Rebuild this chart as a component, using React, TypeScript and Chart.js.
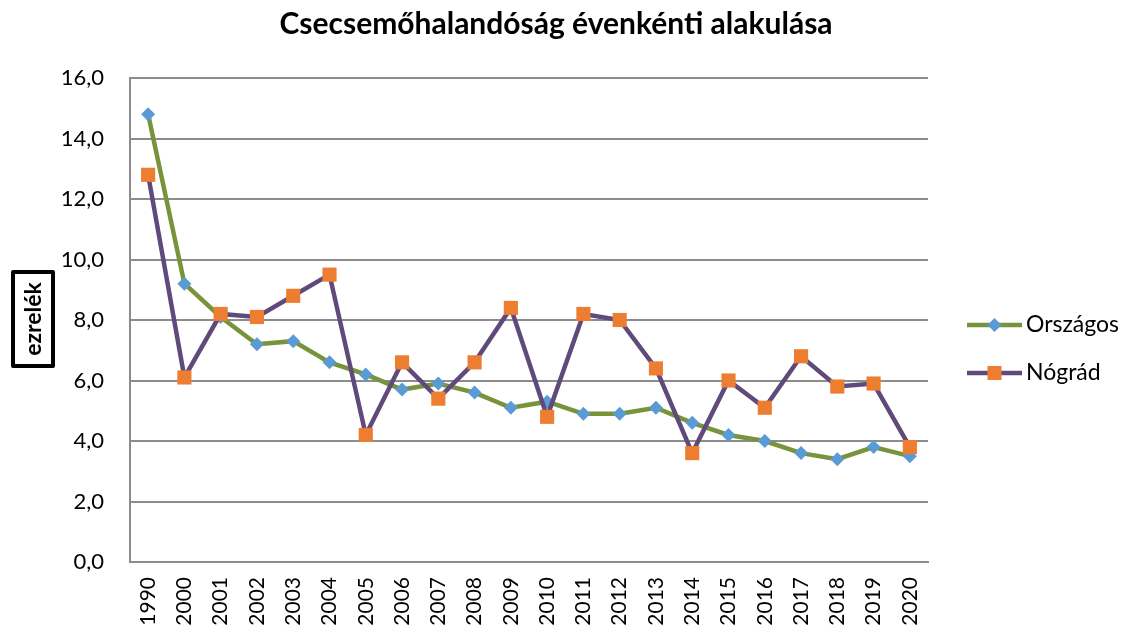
import React, { useEffect, useRef } from "react";
import { Chart, registerables } from "chart.js";

Chart.register(...registerables);

const titleText = "Csecsemőhalandóság évenkénti alakulása";
const yAxisTitle = "ezrelék";
const years = ["1990", "2000", "2001", "2002", "2003", "2004", "2005", "2006", "2007", "2008", "2009", "2010", "2011", "2012", "2013", "2014", "2015", "2016", "2017", "2018", "2019", "2020"];
const orszagos = [14.8, 9.2, 8.1, 7.2, 7.3, 6.6, 6.2, 5.7, 5.9, 5.6, 5.1, 5.3, 4.9, 4.9, 5.1, 4.6, 4.2, 4.0, 3.6, 3.4, 3.8, 3.5];
const nograd = [12.8, 6.1, 8.2, 8.1, 8.8, 9.5, 4.2, 6.6, 5.4, 6.6, 8.4, 4.8, 8.2, 8.0, 6.4, 3.6, 6.0, 5.1, 6.8, 5.8, 5.9, 3.8];
const seriesNames = ["Országos", "Nógrád"];

const FONT = "Lato, 'Open Sans', sans-serif";
const GREEN = "#77933C";
const BLUE = "#5B9BD5";
const PURPLE = "#604A7B";
const ORANGE = "#ED7D31";
const GRID = "#8C8C8C";

const decorPlugin = {
  id: "decor",
  afterDraw(chart: any) {
    const ctx = chart.ctx as CanvasRenderingContext2D;
    ctx.save();
    // Title
    ctx.fillStyle = "#000";
    ctx.font = `bold 30px ${FONT}`;
    ctx.textAlign = "center";
    ctx.textBaseline = "alphabetic";
    ctx.fillText(titleText, 556, 34);

    // Y axis title with box
    ctx.lineWidth = 4;
    ctx.strokeStyle = "#000";
    ctx.lineJoin = "round";
    ctx.strokeRect(13, 272, 40, 94);
    ctx.save();
    ctx.translate(34, 319);
    ctx.rotate(-Math.PI / 2);
    ctx.font = `bold 23px ${FONT}`;
    ctx.textAlign = "center";
    ctx.textBaseline = "middle";
    ctx.fillText(yAxisTitle, 0, 0);
    ctx.restore();

    // Legend
    const items = [
      { name: seriesNames[0], line: GREEN, marker: BLUE, shape: "diamond", y: 325 },
      { name: seriesNames[1], line: PURPLE, marker: ORANGE, shape: "square", y: 373 },
    ];
    for (const it of items) {
      ctx.strokeStyle = it.line;
      ctx.lineWidth = 4.5;
      ctx.lineCap = "butt";
      ctx.beginPath();
      ctx.moveTo(967, it.y);
      ctx.lineTo(1022, it.y);
      ctx.stroke();
      ctx.fillStyle = it.marker;
      const cx = 994.5;
      if (it.shape === "diamond") {
        ctx.beginPath();
        ctx.moveTo(cx, it.y - 7);
        ctx.lineTo(cx + 7, it.y);
        ctx.lineTo(cx, it.y + 7);
        ctx.lineTo(cx - 7, it.y);
        ctx.closePath();
        ctx.fill();
      } else {
        ctx.fillRect(cx - 7, it.y - 7, 14, 14);
      }
      ctx.fillStyle = "#000";
      ctx.font = `23px ${FONT}`;
      ctx.textAlign = "left";
      ctx.textBaseline = "middle";
      ctx.fillText(it.name, 1026, it.y);
    }
    ctx.restore();
  },
};

export default function App() {
  const ref = useRef<HTMLCanvasElement | null>(null);
  useEffect(() => {
    if (!ref.current) return;
    const chart = new Chart(ref.current, {
      type: "line",
      data: {
        labels: years,
        datasets: [
          {
            label: seriesNames[1],
            data: nograd,
            borderColor: PURPLE,
            backgroundColor: ORANGE,
            borderWidth: 4.5,
            pointStyle: "rect",
            pointRadius: 10,
            pointBorderWidth: 0,
            pointBackgroundColor: ORANGE,
            pointBorderColor: ORANGE,
            tension: 0,
            order: 0,
          },
          {
            label: seriesNames[0],
            data: orszagos,
            borderColor: GREEN,
            backgroundColor: BLUE,
            borderWidth: 4.5,
            pointStyle: "rectRot",
            pointRadius: 7,
            pointBorderWidth: 0,
            pointBackgroundColor: BLUE,
            pointBorderColor: BLUE,
            tension: 0,
            order: 1,
          },
        ],
      },
      options: {
        animation: false,
        responsive: false,
        maintainAspectRatio: false,
        layout: { padding: { top: 78, right: 198, bottom: 0, left: 0 } },
        plugins: {
          legend: { display: false },
          title: { display: false },
          tooltip: { enabled: false },
        },
        scales: {
          x: {
            offset: true,
            grid: { display: false, drawTicks: false },
            border: { display: true, color: GRID, width: 2 },
            ticks: {
              autoSkip: false,
              maxRotation: 90,
              minRotation: 90,
              padding: 15,
              color: "#000",
              font: { family: FONT, size: 21 },
            },
            afterFit(scale: any) {
              scale.height = 71;
            },
          },
          y: {
            min: 0,
            max: 16,
            grid: { color: GRID, lineWidth: 2, drawTicks: false },
            border: { display: true, color: GRID, width: 2 },
            ticks: {
              stepSize: 2,
              padding: 26,
              color: "#000",
              font: { family: FONT, size: 22 },
              callback: (v: any) => Number(v).toFixed(1).replace(".", ","),
            },
            afterFit(scale: any) {
              scale.width = 130;
            },
          },
        },
      },
      plugins: [decorPlugin],
    });
    return () => chart.destroy();
  }, []);
  return (
    <div style={{ position: "fixed", left: 0, top: 0, width: 1126, height: 633, background: "#fff" }}>
      <canvas ref={ref} width={1126} height={633} style={{ width: 1126, height: 633 }} />
    </div>
  );
}
